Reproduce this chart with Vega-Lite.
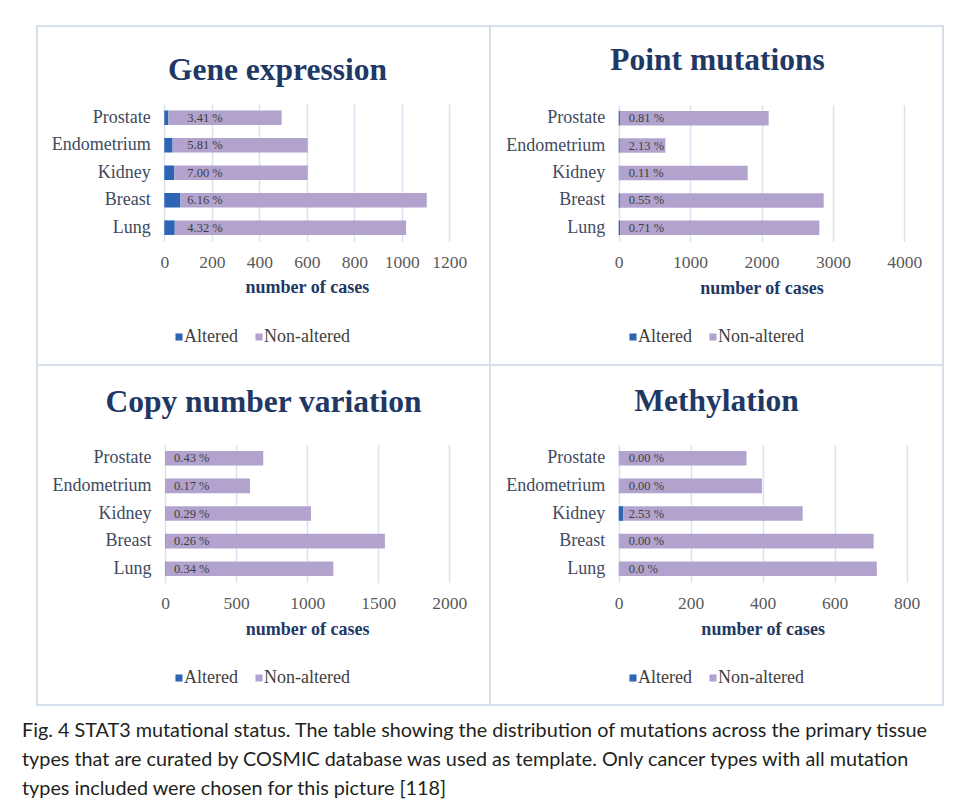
{
  "$schema": "https://vega.github.io/schema/vega-lite/v6.json",
  "padding": {"left": 22, "top": 25, "right": 0, "bottom": 0},
  "background": "white",
  "data": {"values": [
    {"panel": "Gene expression", "tissue": "Prostate", "Altered": 17, "Non-altered": 477, "label": "3.41 %"},
    {"panel": "Gene expression", "tissue": "Endometrium", "Altered": 35, "Non-altered": 569, "label": "5.81 %"},
    {"panel": "Gene expression", "tissue": "Kidney", "Altered": 42, "Non-altered": 562, "label": "7.00 %"},
    {"panel": "Gene expression", "tissue": "Breast", "Altered": 68, "Non-altered": 1037, "label": "6.16 %"},
    {"panel": "Gene expression", "tissue": "Lung", "Altered": 44, "Non-altered": 974, "label": "4.32 %"},
    {"panel": "Point mutations", "tissue": "Prostate", "Altered": 17, "Non-altered": 2083, "label": "0.81 %"},
    {"panel": "Point mutations", "tissue": "Endometrium", "Altered": 14, "Non-altered": 639, "label": "2.13 %"},
    {"panel": "Point mutations", "tissue": "Kidney", "Altered": 2, "Non-altered": 1805, "label": "0.11 %"},
    {"panel": "Point mutations", "tissue": "Breast", "Altered": 16, "Non-altered": 2855, "label": "0.55 %"},
    {"panel": "Point mutations", "tissue": "Lung", "Altered": 20, "Non-altered": 2790, "label": "0.71 %"},
    {"panel": "Copy number variation", "tissue": "Prostate", "Altered": 3, "Non-altered": 688, "label": "0.43 %"},
    {"panel": "Copy number variation", "tissue": "Endometrium", "Altered": 1, "Non-altered": 597, "label": "0.17 %"},
    {"panel": "Copy number variation", "tissue": "Kidney", "Altered": 3, "Non-altered": 1024, "label": "0.29 %"},
    {"panel": "Copy number variation", "tissue": "Breast", "Altered": 4, "Non-altered": 1543, "label": "0.26 %"},
    {"panel": "Copy number variation", "tissue": "Lung", "Altered": 4, "Non-altered": 1180, "label": "0.34 %"},
    {"panel": "Methylation", "tissue": "Prostate", "Altered": 0, "Non-altered": 355, "label": "0.00 %"},
    {"panel": "Methylation", "tissue": "Endometrium", "Altered": 0, "Non-altered": 398, "label": "0.00 %"},
    {"panel": "Methylation", "tissue": "Kidney", "Altered": 13, "Non-altered": 498, "label": "2.53 %"},
    {"panel": "Methylation", "tissue": "Breast", "Altered": 0, "Non-altered": 708, "label": "0.00 %"},
    {"panel": "Methylation", "tissue": "Lung", "Altered": 0, "Non-altered": 717, "label": "0.0 %"}
  ]},
  "title": {
    "text": [
      "Fig. 4 STAT3 mutational status. The table showing the distribution of mutations across the primary tissue",
      "types that are curated by COSMIC database was used as template. Only cancer types with all mutation",
      "types included were chosen for this picture [118]"
    ],
    "orient": "bottom", "anchor": "start", "frame": "bounds",
    "font": "Lato", "fontSize": 19.8, "fontWeight": "normal", "color": "#231f20",
    "lineHeight": 29, "offset": 15, "dx": -14
  },
  "columns": 2,
  "spacing": 0,
  "bounds": "flush",
  "resolve": {"scale": {"x": "independent", "y": "independent", "color": "independent"}, "legend": {"color": "independent"}},
  "concat": [
    {
      "width": 453, "height": 339,
      "title": {"text": "Gene expression", "offset": -60, "dx": 14},
      "transform": [{"filter": "datum.panel === 'Gene expression'"}],
      "resolve": {"axis": {"x": "independent"}},
      "layer": [
        {
          "transform": [{"fold": ["Altered", "Non-altered"], "as": ["status", "cases"]}],
          "mark": {"type": "bar"},
          "encoding": {
            "y": {"field": "tissue", "type": "nominal", "sort": ["Prostate", "Endometrium", "Kidney", "Breast", "Lung"],
              "scale": {"range": [78, 215.4], "paddingInner": 0.47, "paddingOuter": 0.235},
              "axis": {"offset": -127.3, "title": null, "grid": false, "labelPadding": 14}},
            "x": {"field": "cases", "type": "quantitative", "stack": "zero",
              "scale": {"domain": [0, 1200], "range": [127.3, 412.3], "nice": false},
              "axis": {"orient": "bottom", "grid": false, "offset": -123.6, "values": [0, 200, 400, 600, 800, 1000, 1200], "title": "number of cases"}},
            "color": {"field": "status", "type": "nominal",
              "scale": {"domain": ["Altered", "Non-altered"], "range": ["#2e64b4", "#b1a3cd"]},
              "legend": {"orient": "none", "legendX": 133, "legendY": 302}},
            "order": {"field": "status", "sort": "ascending"}
          }
        },
        {
          "mark": {"type": "text", "align": "left", "baseline": "middle", "dx": 23, "font": "Liberation Serif", "fontSize": 12.5, "color": "#3f3f3f"},
          "encoding": {
            "y": {"field": "tissue", "type": "nominal", "sort": ["Prostate", "Endometrium", "Kidney", "Breast", "Lung"]},
            "x": {"datum": 0, "type": "quantitative",
              "axis": {"orient": "top", "grid": true, "labels": false, "title": null, "values": [0, 200, 400, 600, 800, 1000, 1200]}},
            "text": {"field": "label"}
          }
        }
      ]
    },
    {
      "width": 453, "height": 339,
      "title": {"text": "Point mutations", "offset": -50, "dx": 1},
      "transform": [{"filter": "datum.panel === 'Point mutations'"}],
      "resolve": {"axis": {"x": "independent"}},
      "layer": [
        {
          "transform": [{"fold": ["Altered", "Non-altered"], "as": ["status", "cases"]}],
          "mark": {"type": "bar"},
          "encoding": {
            "y": {"field": "tissue", "type": "nominal", "sort": ["Prostate", "Endometrium", "Kidney", "Breast", "Lung"],
              "scale": {"range": [78.5, 215.5], "paddingInner": 0.47, "paddingOuter": 0.235},
              "axis": {"offset": -128.7, "title": null, "grid": false, "labelPadding": 14}},
            "x": {"field": "cases", "type": "quantitative", "stack": "zero",
              "scale": {"domain": [0, 4000], "range": [128.7, 414.3], "nice": false},
              "axis": {"orient": "bottom", "grid": false, "offset": -123.5, "values": [0, 1000, 2000, 3000, 4000], "title": "number of cases"}},
            "color": {"field": "status", "type": "nominal",
              "scale": {"domain": ["Altered", "Non-altered"], "range": ["#2e64b4", "#b1a3cd"]},
              "legend": {"orient": "none", "legendX": 134, "legendY": 302}},
            "order": {"field": "status", "sort": "ascending"}
          }
        },
        {
          "mark": {"type": "text", "align": "left", "baseline": "middle", "dx": 10, "font": "Liberation Serif", "fontSize": 12.5, "color": "#3f3f3f"},
          "encoding": {
            "y": {"field": "tissue", "type": "nominal", "sort": ["Prostate", "Endometrium", "Kidney", "Breast", "Lung"]},
            "x": {"datum": 0, "type": "quantitative",
              "axis": {"orient": "top", "grid": true, "labels": false, "title": null, "values": [0, 1000, 2000, 3000, 4000]}},
            "text": {"field": "label"}
          }
        }
      ]
    },
    {
      "width": 453, "height": 340,
      "title": {"text": "Copy number variation", "offset": -53, "dx": 0},
      "transform": [{"filter": "datum.panel === 'Copy number variation'"}],
      "resolve": {"axis": {"x": "independent"}},
      "layer": [
        {
          "transform": [{"fold": ["Altered", "Non-altered"], "as": ["status", "cases"]}],
          "mark": {"type": "bar"},
          "encoding": {
            "y": {"field": "tissue", "type": "nominal", "sort": ["Prostate", "Endometrium", "Kidney", "Breast", "Lung"],
              "scale": {"range": [79.5, 217.5], "paddingInner": 0.47, "paddingOuter": 0.235},
              "axis": {"offset": -128, "title": null, "grid": false, "labelPadding": 14}},
            "x": {"field": "cases", "type": "quantitative", "stack": "zero",
              "scale": {"domain": [0, 2000], "range": [128, 412.3], "nice": false},
              "axis": {"orient": "bottom", "grid": false, "offset": -122.5, "values": [0, 500, 1000, 1500, 2000], "title": "number of cases"}},
            "color": {"field": "status", "type": "nominal",
              "scale": {"domain": ["Altered", "Non-altered"], "range": ["#2e64b4", "#b1a3cd"]},
              "legend": {"orient": "none", "legendX": 133, "legendY": 304}},
            "order": {"field": "status", "sort": "ascending"}
          }
        },
        {
          "mark": {"type": "text", "align": "left", "baseline": "middle", "dx": 9, "font": "Liberation Serif", "fontSize": 12.5, "color": "#3f3f3f"},
          "encoding": {
            "y": {"field": "tissue", "type": "nominal", "sort": ["Prostate", "Endometrium", "Kidney", "Breast", "Lung"]},
            "x": {"datum": 0, "type": "quantitative",
              "axis": {"orient": "top", "grid": true, "labels": false, "title": null, "values": [0, 500, 1000, 1500, 2000]}},
            "text": {"field": "label"}
          }
        }
      ]
    },
    {
      "width": 453, "height": 340,
      "title": {"text": "Methylation", "offset": -52, "dx": 0},
      "transform": [{"filter": "datum.panel === 'Methylation'"}],
      "resolve": {"axis": {"x": "independent"}},
      "layer": [
        {
          "transform": [{"fold": ["Altered", "Non-altered"], "as": ["status", "cases"]}],
          "mark": {"type": "bar"},
          "encoding": {
            "y": {"field": "tissue", "type": "nominal", "sort": ["Prostate", "Endometrium", "Kidney", "Breast", "Lung"],
              "scale": {"range": [79.5, 217.5], "paddingInner": 0.47, "paddingOuter": 0.235},
              "axis": {"offset": -128.7, "title": null, "grid": false, "labelPadding": 14}},
            "x": {"field": "cases", "type": "quantitative", "stack": "zero",
              "scale": {"domain": [0, 800], "range": [128.7, 416.7], "nice": false},
              "axis": {"orient": "bottom", "grid": false, "offset": -122.5, "values": [0, 200, 400, 600, 800], "title": "number of cases"}},
            "color": {"field": "status", "type": "nominal",
              "scale": {"domain": ["Altered", "Non-altered"], "range": ["#2e64b4", "#b1a3cd"]},
              "legend": {"orient": "none", "legendX": 134, "legendY": 304}},
            "order": {"field": "status", "sort": "ascending"}
          }
        },
        {
          "mark": {"type": "text", "align": "left", "baseline": "middle", "dx": 10, "font": "Liberation Serif", "fontSize": 12.5, "color": "#3f3f3f"},
          "encoding": {
            "y": {"field": "tissue", "type": "nominal", "sort": ["Prostate", "Endometrium", "Kidney", "Breast", "Lung"]},
            "x": {"datum": 0, "type": "quantitative",
              "axis": {"orient": "top", "grid": true, "labels": false, "title": null, "values": [0, 200, 400, 600, 800]}},
            "text": {"field": "label"}
          }
        }
      ]
    }
  ],
  "config": {
    "view": {"stroke": "#d6e0ec", "strokeWidth": 2},
    "title": {"font": "Liberation Serif", "fontSize": 31.5, "fontWeight": "bold", "color": "#1f3864", "anchor": "middle", "frame": "group"},
    "axis": {"labelFont": "Liberation Serif", "labelFontSize": 17.5, "labelColor": "#595959",
      "titleFont": "Liberation Serif", "titleFontSize": 18, "titleFontWeight": "bold", "titleColor": "#1f3864",
      "domain": false, "ticks": false},
    "axisX": {"gridColor": "#d9e2ef", "gridWidth": 1.5, "labelPadding": 12, "titlePadding": 8,
      "format": "d", "labelOverlap": false, "labelFlush": false},
    "axisY": {"labelColor": "#404a5e", "labelFontSize": 18},
    "legend": {"direction": "horizontal", "title": null, "symbolType": "square", "symbolSize": 50, "symbolStrokeWidth": 0,
      "labelFont": "Liberation Serif", "labelFontSize": 18, "labelColor": "#404040", "columnPadding": 12, "labelOffset": -4}
  }
}
